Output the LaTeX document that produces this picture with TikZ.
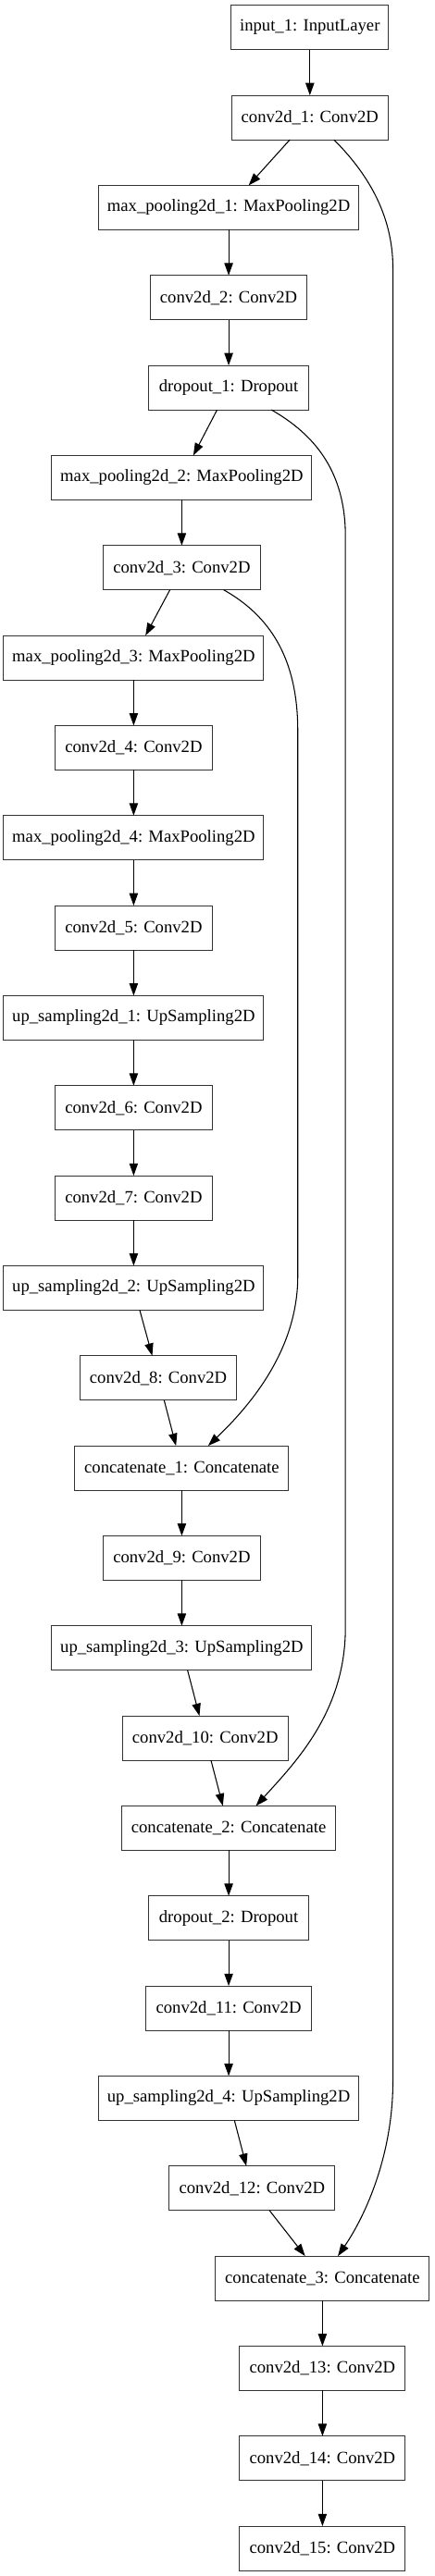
\documentclass[tikz,border=0pt]{standalone}
\usepackage{fontspec}
\setmainfont{Liberation Serif}
\usepackage{tikz}
\usetikzlibrary{arrows.meta,positioning,calc}
\usepackage{xcolor}
\definecolor{boxgray}{HTML}{333333}

\begin{document}
\begin{tikzpicture}[
  font=\fontsize{14pt}{16pt}\selectfont,
  >={Triangle[length=10pt,width=7pt]},
  node distance=37pt,
  layer/.style={
    draw=boxgray,
    fill=white,
    line width=0.8pt,
    minimum height=36pt,
    inner xsep=7pt,
    inner ysep=0pt,
    outer sep=0pt,
    align=center
  },
  inputbox/.style={layer, minimum width=126.4pt},
  convbox/.style={layer, minimum width=127pt},
  convwide/.style={layer, minimum width=134.25pt},
  poolbox/.style={layer, minimum width=209.25pt},
  dropbox/.style={layer, minimum width=129.75pt},
  catbox/.style={layer, minimum width=173.25pt},
  flowarrow/.style={
    ->,
    line width=0.8pt,
    draw=black
  }
]

  \useasboundingbox (0,0) rectangle (351.75pt,-2088.75pt);

  % --- ENCODER ---
  \node[inputbox] (in1) at (251.1pt,-22.3pt) {input\_1: InputLayer};
  \node[convbox, below=of in1] (c1) {conv2d\_1: Conv2D};
  \node[poolbox, below=of c1, xshift=-65.8pt] (mp1) {max\_pooling2d\_1: MaxPooling2D};
  \node[convbox, below=of mp1] (c2) {conv2d\_2: Conv2D};
  \node[dropbox, below=of c2] (d1) {dropout\_1: Dropout};
  \node[poolbox, below=of d1, xshift=-38pt] (mp2) {max\_pooling2d\_2: MaxPooling2D};
  \node[convbox, below=of mp2] (c3) {conv2d\_3: Conv2D};
  \node[poolbox, below=of c3, xshift=-39pt] (mp3) {max\_pooling2d\_3: MaxPooling2D};
  \node[convbox, below=of mp3] (c4) {conv2d\_4: Conv2D};
  \node[poolbox, below=of c4] (mp4) {max\_pooling2d\_4: MaxPooling2D};
  \node[convbox, below=of mp4] (c5) {conv2d\_5: Conv2D};

  % --- DECODER ---
  \node[poolbox, below=of c5] (up1) {up\_sampling2d\_1: UpSampling2D};
  \node[convbox, below=of up1] (c6) {conv2d\_6: Conv2D};
  \node[convbox, below=of c6] (c7) {conv2d\_7: Conv2D};
  \node[poolbox, below=of c7] (up2) {up\_sampling2d\_2: UpSampling2D};
  \node[convbox, below=of up2, xshift=20pt] (c8) {conv2d\_8: Conv2D};
  \node[catbox, below=of c8, xshift=19pt] (cat1) {concatenate\_1: Concatenate};
  \node[convbox, below=of cat1] (c9) {conv2d\_9: Conv2D};
  \node[poolbox, below=of c9] (up3) {up\_sampling2d\_3: UpSampling2D};
  \node[convwide, below=of up3, xshift=19pt] (c10) {conv2d\_10: Conv2D};
  \node[catbox, below=of c10, xshift=19pt] (cat2) {concatenate\_2: Concatenate};
  \node[dropbox, below=of cat2] (d2) {dropout\_2: Dropout};
  \node[convwide, below=of d2] (c11) {conv2d\_11: Conv2D};
  \node[poolbox, below=of c11] (up4) {up\_sampling2d\_4: UpSampling2D};
  \node[convwide, below=of up4, xshift=19pt] (c12) {conv2d\_12: Conv2D};
  \node[catbox, below=of c12, xshift=57pt] (cat3) {concatenate\_3: Concatenate};
  \node[convwide, below=of cat3] (c13) {conv2d\_13: Conv2D};
  \node[convwide, below=of c13] (c14) {conv2d\_14: Conv2D};
  \node[convwide, below=of c14] (c15) {conv2d\_15: Conv2D};

  % Main chain
  \foreach \a/\b in {in1/c1, c1/mp1, mp1/c2, c2/d1, d1/mp2, mp2/c3, c3/mp3,
      mp3/c4, c4/mp4, mp4/c5, c5/up1, up1/c6, c6/c7, c7/up2, up2/c8, c8/cat1,
      cat1/c9, c9/up3, up3/c10, c10/cat2, cat2/d2, d2/c11, c11/up4, up4/c12,
      c12/cat3, cat3/c13, c13/c14, c14/c15}
    \draw[flowarrow] (\a) -- (\b);

  % Skip connections
  \coordinate (laneAtop) at ($(c1.south)+(67.3pt,-104.25pt)$);
  \coordinate (laneAbot) at ($(cat3.north -| laneAtop)+(0,142pt)$);
  \draw[flowarrow] ([xshift=19.5pt]c1.south) .. controls +(25.5pt,-25.5pt) and +(0,45pt) .. (laneAtop)
    -- (laneAbot) .. controls +(0,-60pt) and +(22.5pt,33pt) .. ([xshift=12.5pt]cat3.north);

  \coordinate (laneBtop) at ($(d1.south)+(94.6pt,-102.5pt)$);
  \coordinate (laneBbot) at ($(cat2.north -| laneBtop)+(0,144.5pt)$);
  \draw[flowarrow] ([xshift=34.6pt]d1.south) .. controls +(35pt,-20pt) and +(0,52.5pt) .. (laneBtop)
    -- (laneBbot) .. controls +(0,-67.5pt) and +(32.5pt,35.8pt) .. ([xshift=22.1pt]cat2.north);

  \coordinate (laneCtop) at ($(c3.south)+(94pt,-114.2pt)$);
  \coordinate (laneCbot) at ($(cat1.north -| laneCtop)+(0,137.5pt)$);
  \draw[flowarrow] ([xshift=34pt]c3.south) .. controls +(36.2pt,-20.4pt) and +(0,60pt) .. (laneCtop)
    -- (laneCbot) .. controls +(0,-60pt) and +(33.75pt,32.5pt) .. ([xshift=21.4pt]cat1.north);

\end{tikzpicture}
\end{document}
